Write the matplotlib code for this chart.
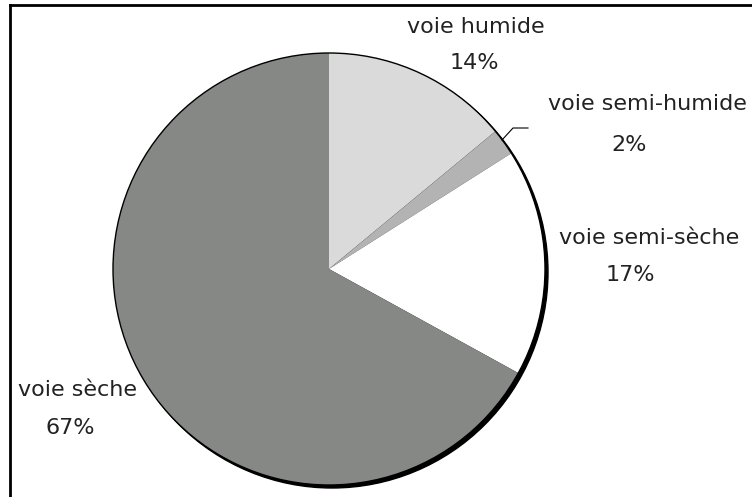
import matplotlib
matplotlib.use("Agg")
import matplotlib.pyplot as plt
from matplotlib.patches import Circle
from matplotlib.lines import Line2D

# Share of each route (percent)
categories = ["voie humide", "voie semi-humide", "voie semi-sèche", "voie sèche"]
values = [14, 2, 17, 67]
pct_labels = ["14%", "2%", "17%", "67%"]
colors = ["#dadada", "#b3b3b3", "#ffffff", "#868886"]

W, H = 752, 497
fig = plt.figure(figsize=(W / 100, H / 100), dpi=100)
ax = fig.add_axes([0, 0, 1, 1])

cx, cy, r = 329, H - 269, 216

# shadow under the pie
ax.add_patch(Circle((cx + 3, cy - 3), r, color="black", zorder=1))

wedges, _ = ax.pie(values, colors=colors, startangle=90, counterclock=False,
                   center=(cx, cy), radius=r, frame=True,
                   wedgeprops=dict(linewidth=0, zorder=2))
ax.add_patch(Circle((cx, cy), r, fill=False, edgecolor="black", linewidth=1.0, zorder=3))
ax.set_xlim(0, W)
ax.set_ylim(0, H)
ax.axis("off")

font = dict(fontsize=16, color="#222222", ha="center", va="center", family="DejaVu Sans")
# label positions (pixels from top-left)
name_pos = [(476, 27), (647, 104), (649, 238), (78, 390)]
pct_pos = [(474, 63), (629, 145), (630, 275), (70, 428)]
for name, pct, (nx, ny), (px, py) in zip(categories, pct_labels, name_pos, pct_pos):
    ax.text(nx, H - ny, name, **font)
    ax.text(px, H - py, pct, **font)

# leader line for the small slice
ax.plot([502, 513, 528], [H - 140, H - 128, H - 128], color="black", linewidth=0.8, zorder=4)

# chart area border (top and left only visible)
fig.add_artist(Line2D([10 / W, 1], [1 - 5 / H, 1 - 5 / H], color="black", linewidth=2, transform=fig.transFigure))
fig.add_artist(Line2D([10 / W, 10 / W], [0, 1 - 5 / H], color="black", linewidth=2, transform=fig.transFigure))

fig.savefig("out.png", dpi=100)
plt.close(fig)
